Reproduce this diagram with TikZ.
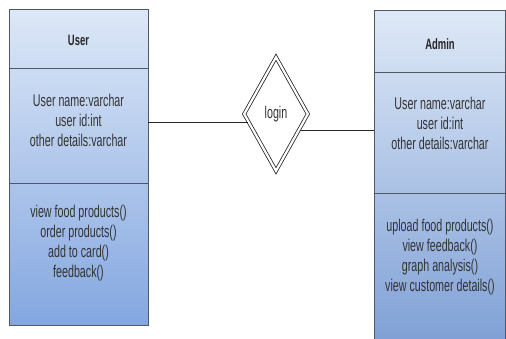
\documentclass[tikz,border=0pt]{standalone}
\usepackage{fontspec}
\usetikzlibrary{shapes.geometric}
\newfontfamily\narrowsans[FakeStretch=0.63]{Liberation Sans}
\definecolor{boxtop}{HTML}{DDE8F7}
\definecolor{boxbottom}{HTML}{84A7E0}
\definecolor{boxline}{HTML}{4F5866}
\definecolor{inktext}{HTML}{333333}
\tikzset{
  classbox/.style={rectangle, draw=boxline, line width=0.9pt, top color=boxtop,
    bottom color=boxbottom, inner sep=0pt},
  divider/.style={draw=boxline, line width=0.9pt},
  title/.style={font=\narrowsans\bfseries\fontsize{15}{18}\selectfont, text=black!85},
  members/.style={font=\narrowsans\fontsize{17}{20}\selectfont, text=inktext,
    align=center, inner sep=0pt},
  relation/.style={diamond, draw=black!85, double, double distance=2.2pt, line width=0.8pt,
    minimum width=64pt, minimum height=114pt, inner sep=0pt,
    font=\narrowsans\fontsize{17}{20}\selectfont, text=inktext},
  conn/.style={draw=black!85, line width=1pt}
}
\begin{document}
\begin{tikzpicture}[x=1pt,y=-1pt]
\clip (0,0) rectangle (506,338);
\fill[white] (0,0) rectangle (506,338);

% User class
\node[classbox, minimum width=139pt, minimum height=316pt] (user) at (78.5,167) {};
\draw[divider] (9,68) -- (148,68);
\draw[divider] (9,183) -- (148,183);
\node[title] (usertitle) at (78.5,40) {User};
\node[members] (userattr) at (78.5,120) {User name:varchar\\user id:int\\other details:varchar};
\node[members] (userops) at (78.5,243) {view food products()\\order products()\\add to card()\\feedback()};

% Admin class (runs past the lower edge)
\node[classbox, minimum width=131pt, minimum height=340pt, top color=boxtop!95!white,
  bottom color=boxbottom!95!black] (admin) at (440,180) {};
\draw[divider] (374,72) -- (506,72);
\draw[divider] (374,193) -- (506,193);
\node[title] (admintitle) at (440,44) {Admin};
\node[members] (adminattr) at (440,123) {User name:varchar\\user id:int\\other details:varchar};
\node[members] (adminops) at (440,257) {upload food products()\\view feedback()\\graph analysis()\\view customer details()};

% login relationship
\node[relation] (login) at (276,114) {login};
\coordinate (userport) at (148,122);
\coordinate (adminport) at (374,130);
\draw[conn] (userport) -- (userport -| login.195);
\draw[conn] (login.327 |- adminport) -- (adminport);
\end{tikzpicture}
\end{document}
